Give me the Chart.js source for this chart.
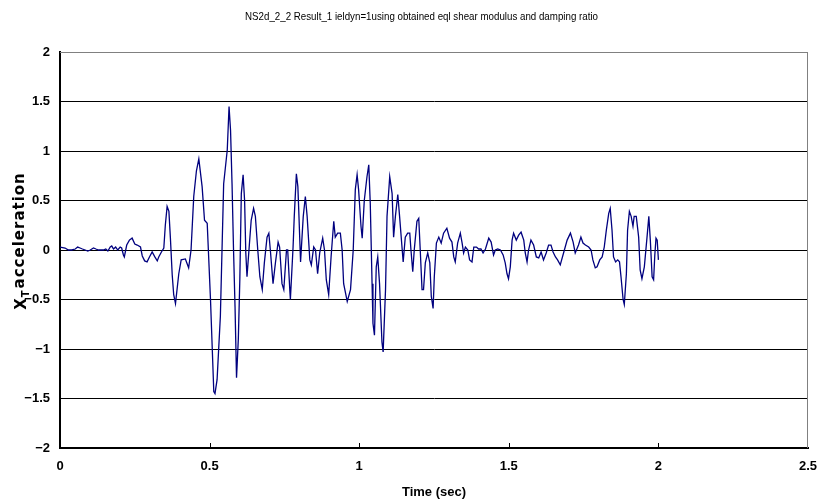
<!DOCTYPE html>
<html>
<head>
<meta charset="utf-8">
<script src="https://cdn.jsdelivr.net/npm/chart.js@4.4.0/dist/chart.umd.min.js"></script>
<style>
  html, body { margin: 0; padding: 0; background: #fff; }
  #wrap { width: 820px; height: 500px; }
</style>
</head>
<body>
<div id="wrap"><canvas id="accChart" width="820" height="500"></canvas></div>
<script>
// time history at the surface (sec / acceleration)
var timeSec = [
  0, 0.017, 0.028, 0.039, 0.051, 0.059, 0.067, 0.075, 0.084, 0.093,
  0.101, 0.112, 0.120, 0.129, 0.138, 0.145, 0.153, 0.160, 0.168, 0.173,
  0.179, 0.186, 0.193, 0.201, 0.206, 0.212, 0.215, 0.223, 0.232, 0.241,
  0.250, 0.258, 0.269, 0.275, 0.283, 0.291, 0.299, 0.308, 0.317, 0.325,
  0.330, 0.339, 0.347, 0.352, 0.358, 0.364, 0.369, 0.375, 0.380, 0.386,
  0.397, 0.405, 0.419, 0.430, 0.438, 0.447, 0.456, 0.464, 0.475, 0.483,
  0.492, 0.503, 0.514, 0.518, 0.525, 0.536, 0.547, 0.559, 0.565, 0.570,
  0.575, 0.580, 0.585, 0.590, 0.596, 0.601, 0.606, 0.612, 0.617, 0.621,
  0.625, 0.634, 0.639, 0.647, 0.653, 0.661, 0.668, 0.676, 0.683, 0.692,
  0.698, 0.703, 0.712, 0.720, 0.729, 0.734, 0.742, 0.748, 0.757, 0.761,
  0.768, 0.770, 0.779, 0.783, 0.790, 0.795, 0.798, 0.804, 0.813, 0.820,
  0.826, 0.835, 0.840, 0.848, 0.854, 0.861, 0.868, 0.878, 0.884, 0.890,
  0.898, 0.906, 0.915, 0.920, 0.928, 0.937, 0.943, 0.948, 0.960, 0.971,
  0.980, 0.987, 0.993, 0.998, 1.006, 1.010, 1.017, 1.026, 1.032, 1.037,
  1.043, 1.046, 1.051, 1.057, 1.062, 1.068, 1.076, 1.080, 1.088, 1.093,
  1.102, 1.110, 1.115, 1.121, 1.129, 1.135, 1.143, 1.147, 1.154, 1.162,
  1.169, 1.173, 1.179, 1.184, 1.193, 1.199, 1.204, 1.210, 1.215, 1.221,
  1.229, 1.236, 1.241, 1.247, 1.251, 1.258, 1.266, 1.274, 1.282, 1.293,
  1.302, 1.310, 1.316, 1.321, 1.329, 1.338, 1.344, 1.349, 1.355, 1.363,
  1.369, 1.377, 1.383, 1.392, 1.399, 1.407, 1.414, 1.422, 1.433, 1.441,
  1.449, 1.455, 1.463, 1.472, 1.481, 1.488, 1.494, 1.499, 1.505, 1.511,
  1.516, 1.525, 1.533, 1.541, 1.550, 1.555, 1.561, 1.566, 1.574, 1.583,
  1.592, 1.600, 1.608, 1.616, 1.625, 1.633, 1.641, 1.648, 1.656, 1.663,
  1.672, 1.683, 1.695, 1.706, 1.715, 1.722, 1.733, 1.741, 1.748, 1.756,
  1.767, 1.775, 1.781, 1.789, 1.795, 1.804, 1.812, 1.819, 1.826, 1.834,
  1.839, 1.845, 1.850, 1.857, 1.864, 1.870, 1.875, 1.882, 1.886, 1.893,
  1.897, 1.903, 1.909, 1.915, 1.919, 1.926, 1.934, 1.939, 1.945, 1.953,
  1.962, 1.968, 1.973, 1.979, 1.984, 1.988, 1.992, 1.996, 2.000
];

var accelX = [
  0.03, 0.02, 0.00, 0.00, 0.01, 0.03, 0.02, 0.01, 0.00, -0.01,
  0.00, 0.02, 0.01, 0.00, 0.00, 0.00, 0.01, -0.01, 0.03, 0.04,
  0.01, 0.03, 0.00, 0.03, 0.02, -0.05, -0.07, 0.05, 0.10, 0.12,
  0.06, 0.05, 0.03, -0.06, -0.11, -0.12, -0.07, -0.02, -0.07, -0.11,
  -0.07, -0.02, 0.02, 0.25, 0.44, 0.39, 0.12, -0.25, -0.45, -0.54,
  -0.24, -0.10, -0.09, -0.18, 0.00, 0.54, 0.80, 0.92, 0.64, 0.30,
  0.27, -0.50, -1.43, -1.45, -1.31, -0.67, 0.67, 1.01, 1.45, 1.21,
  0.67, 0.00, -0.57, -1.29, -0.90, -0.30, 0.57, 0.76, 0.50, -0.03,
  -0.27, 0.10, 0.30, 0.42, 0.34, 0.00, -0.27, -0.40, -0.13, 0.13,
  0.17, 0.00, -0.34, -0.13, 0.08, 0.03, -0.34, -0.40, 0.00, 0.00,
  -0.40, -0.50, 0.03, 0.34, 0.77, 0.64, 0.40, -0.12, 0.34, 0.54,
  0.34, -0.10, -0.15, 0.03, 0.00, -0.24, -0.03, 0.12, 0.00, -0.30,
  -0.45, -0.07, 0.29, 0.13, 0.17, 0.17, 0.00, -0.34, -0.52, -0.40,
  0.00, 0.61, 0.76, 0.61, 0.24, 0.12, 0.50, 0.74, 0.86, 0.47,
  -0.34, -0.74, -0.86, -0.17, -0.07, -0.34, -0.93, -1.03, -0.40, 0.34,
  0.74, 0.57, 0.13, 0.34, 0.56, 0.34, 0.03, -0.12, 0.13, 0.17,
  0.17, 0.00, -0.22, 0.00, 0.29, 0.32, 0.00, -0.40, -0.40, -0.13,
  -0.03, -0.13, -0.47, -0.59, -0.27, 0.07, 0.13, 0.07, 0.17, 0.22,
  0.12, 0.08, -0.07, -0.12, 0.07, 0.17, 0.07, -0.03, 0.03, 0.00,
  -0.10, -0.12, 0.03, 0.03, 0.01, 0.01, -0.03, 0.01, 0.12, 0.08,
  -0.05, 0.00, 0.01, 0.00, -0.05, -0.13, -0.24, -0.29, -0.17, 0.10,
  0.17, 0.10, 0.15, 0.18, 0.10, -0.03, -0.12, 0.00, 0.10, 0.05,
  -0.07, -0.08, -0.02, -0.10, -0.03, 0.05, 0.05, -0.02, -0.07, -0.10,
  -0.15, -0.03, 0.10, 0.17, 0.08, -0.03, 0.05, 0.13, 0.07, 0.05,
  0.03, 0.00, -0.10, -0.18, -0.17, -0.10, -0.07, 0.03, 0.20, 0.37,
  0.42, 0.20, -0.07, -0.12, -0.10, -0.12, -0.27, -0.50, -0.55, -0.24,
  0.20, 0.39, 0.34, 0.24, 0.34, 0.34, 0.13, -0.20, -0.29, -0.17,
  0.13, 0.34, 0.10, -0.27, -0.30, -0.05, 0.12, 0.10, -0.10
];

var xRange = [0, 2.5];
var yRange = [-2, 2];
var xStep = 0.5;
var yStep = 0.5;

var chartTitle = 'NS2d_2_2 Result_1 ieldyn=1using obtained eql shear modulus and damping ratio';
var xTitle = 'Time (sec)';

var points = timeSec.map(function (t, i) { return { x: t, y: accelX[i] }; });

var tickFont = { family: "'Liberation Sans', Arial, sans-serif", size: 13, weight: 'bold' };

function fmtTick(v) {
  var s = String(Math.round(v * 10) / 10);
  return s.replace('-', '\u2212');
}

// narrow title line above the plot
var titlePlugin = {
  id: 'narrowTitle',
  afterDraw: function (chart) {
    var c = chart.ctx;
    c.save();
    c.font = "10.5px 'Liberation Sans', Arial, sans-serif";
    c.fillStyle = '#000';
    c.textAlign = 'center';
    c.textBaseline = 'middle';
    var w = c.measureText(chartTitle).width;
    var k = 353 / w;
    c.translate(421.5, 17);
    c.scale(k, 1);
    c.fillText(chartTitle, 0, 0);
    c.restore();
  }
};

// y axis label: X with a subscript T, then "acceleration"
var yLabelPlugin = {
  id: 'yLabel',
  afterDraw: function (chart) {
    var c = chart.ctx;
    var area = chart.chartArea;
    var big = "bold 15px 'DejaVu Sans', sans-serif";
    var small = "bold 10px 'DejaVu Sans', sans-serif";
    c.save();
    if ('letterSpacing' in c) c.letterSpacing = '1px';
    c.font = big;
    var wX = c.measureText('X').width;
    var wAcc = c.measureText('acceleration').width;
    c.font = small;
    var wT = c.measureText('T').width;
    var total = wX + wT + 1 + wAcc;
    c.translate(26, (area.top + area.bottom) / 2 - 9);
    c.rotate(-Math.PI / 2);
    c.fillStyle = '#000';
    c.textBaseline = 'alphabetic';
    c.textAlign = 'left';
    var x0 = -total / 2;
    c.font = big;
    c.fillText('X', x0, 0);
    c.font = small;
    c.fillText('T', x0 + wX, 3);
    c.font = big;
    c.fillText('acceleration', x0 + wX + wT + 1, -2);
    c.restore();
  }
};

// gray top/right frame and short inward ticks on the time axis
var framePlugin = {
  id: 'frame',
  afterDraw: function (chart) {
    var c = chart.ctx;
    var a = chart.chartArea;
    var xs = chart.scales.x;
    c.save();
    c.strokeStyle = '#808080';
    c.lineWidth = 1;
    c.beginPath();
    c.moveTo(a.left, a.top + 0.5);
    c.lineTo(a.right - 0.5, a.top + 0.5);
    c.lineTo(a.right - 0.5, a.bottom);
    c.stroke();
    c.strokeStyle = '#000';
    c.beginPath();
    for (var v = xRange[0] + xStep; v < xRange[1] - 1e-9; v += xStep) {
      var px = Math.round(xs.getPixelForValue(v)) + 0.5;
      c.moveTo(px, a.bottom);
      c.lineTo(px, a.bottom - 5);
    }
    c.stroke();
    c.restore();
  }
};

var ctx = document.getElementById('accChart');
var accChart = new Chart(ctx, {
  type: 'line',
  data: {
    datasets: [{
      label: 'acc',
      data: points,
      borderColor: '#00007f',
      borderWidth: 1.3,
      pointRadius: 0,
      tension: 0,
      fill: false
    }]
  },
  options: {
    responsive: false,
    animation: false,
    devicePixelRatio: 1,
    layout: { padding: { left: 0, right: 12, top: 52, bottom: 0 } },
    plugins: {
      legend: { display: false },
      tooltip: { enabled: false },
      title: { display: false }
    },
    scales: {
      x: {
        type: 'linear',
        min: xRange[0],
        max: xRange[1],
        afterFit: function (s) {
          s.height = 52;
          s.paddingLeft = 0;
          s.paddingRight = 0;
        },
        ticks: {
          stepSize: xStep,
          color: '#000',
          font: tickFont,
          padding: 11,
          maxRotation: 0,
          callback: fmtTick
        },
        grid: { display: false, drawTicks: false },
        border: { display: true, color: '#000', width: 2 },
        title: {
          display: true,
          text: xTitle,
          color: '#000',
          font: tickFont,
          padding: { top: 0, bottom: 0 }
        }
      },
      y: {
        type: 'linear',
        min: yRange[0],
        max: yRange[1],
        afterFit: function (s) {
          s.width = 60;
          s.paddingTop = 0;
          s.paddingBottom = 0;
        },
        ticks: {
          stepSize: yStep,
          color: '#000',
          font: tickFont,
          padding: 10,
          callback: fmtTick
        },
        grid: {
          drawTicks: false,
          lineWidth: 1,
          color: function (c) { return c.tick && c.tick.value === yRange[1] ? '#808080' : '#000'; }
        },
        border: { display: true, color: '#000', width: 2 }
      }
    }
  },
  plugins: [titlePlugin, yLabelPlugin, framePlugin]
});
</script>
</body>
</html>
